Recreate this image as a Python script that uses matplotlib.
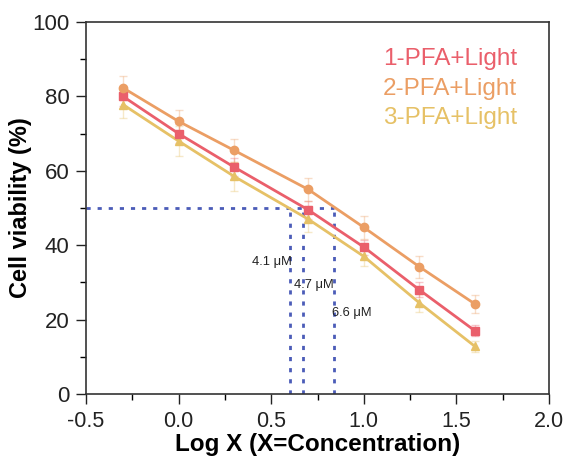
import matplotlib
matplotlib.use('Agg')
import matplotlib.pyplot as plt
from matplotlib.ticker import MultipleLocator

plt.rcParams['font.family'] = ['Liberation Sans', 'DejaVu Sans']

log_x = [-0.3, 0.0, 0.3, 0.7, 1.0, 1.3, 1.6]
names = ['1-PFA+Light', '2-PFA+Light', '3-PFA+Light']
viab_1 = [80.0, 70.0, 61.0, 49.5, 39.5, 28.0, 17.0]
viab_2 = [82.3, 73.3, 65.5, 55.0, 44.8, 34.2, 24.2]
viab_3 = [77.8, 68.0, 58.5, 47.0, 37.0, 24.5, 12.8]
err_1 = [2.5, 2.5, 2.5, 2.5, 2.0, 2.0, 1.5]
err_2 = [3.2, 3.0, 3.0, 3.0, 3.0, 3.0, 2.5]
err_3 = [3.5, 4.0, 4.0, 3.5, 2.5, 2.5, 1.5]
ic50_labels = ['4.1 μM', '4.7 μM', '6.6 μM']
ic50_logx = [0.60, 0.672, 0.84]

colors = ['#ea5f6b', '#eb9e64', '#e6c166']
markers = ['s', 'o', '^']
series = [viab_1, viab_2, viab_3]
errs = [err_1, err_2, err_3]

fig = plt.figure(figsize=(5.71, 4.59), dpi=100)
ax = fig.add_axes([0.1506, 0.1416, 0.8109, 0.8104])

# IC50 guide lines
dash_c = '#4b5cb8'
ax.plot([-0.5, max(ic50_logx)], [50, 50], color=dash_c, lw=2,
        linestyle=(0, (1.5, 2.5)), zorder=1)
for xv in ic50_logx:
    ax.plot([xv, xv], [0, 50], color=dash_c, lw=2,
            linestyle=(0, (1.5, 2.5)), zorder=1)

# draw order: yellow, red, orange on top
for i in [2, 0, 1]:
    ax.errorbar(log_x, series[i], yerr=errs[i], fmt='none', ecolor=colors[i],
                alpha=0.35, elinewidth=1, capsize=3, capthick=1, zorder=2)
    ax.plot(log_x, series[i], color=colors[i], lw=2, zorder=3)
    ax.plot(log_x, series[i], linestyle='none', marker=markers[i],
            color=colors[i], ms=6, zorder=4)

# IC50 text
text_pos = [(0.396, 35.5), (0.623, 29.3), (0.828, 21.8)]
for lab, (tx, ty) in zip(ic50_labels, text_pos):
    ax.text(tx, ty, lab, fontsize=9.3, color='#222222', va='center', ha='left')

# colored legend text
for i, nm in enumerate(names):
    ax.text(0.931, 0.90 - i * 0.079, nm, transform=ax.transAxes, color=colors[i],
            fontsize=17.5, ha='right', va='center')

ax.set_xlim(-0.5, 2.0)
ax.set_ylim(0, 100)
ax.xaxis.set_minor_locator(MultipleLocator(0.25))
ax.yaxis.set_major_locator(MultipleLocator(20))
ax.yaxis.set_minor_locator(MultipleLocator(10))
ax.set_xticks([-0.5, 0.0, 0.5, 1.0, 1.5, 2.0])
ax.set_xticklabels(['-0.5', '0.0', '0.5', '1.0', '1.5', '2.0'])
ax.tick_params(which='major', direction='out', length=7, width=1, colors='#222222', pad=5)
ax.tick_params(axis='y', which='major', labelsize=16)
ax.tick_params(axis='x', which='major', labelsize=15.5)
ax.tick_params(which='minor', direction='out', length=4, width=1)
for s in ax.spines.values():
    s.set_linewidth(1.2)
    s.set_color('#333333')

ax.set_xlabel('Log X (X=Concentration)', fontsize=17.5, fontweight='bold', labelpad=1)
ax.set_ylabel('Cell viability (%)', fontsize=17, fontweight='bold', labelpad=0)

fig.savefig('out.png', dpi=100)
